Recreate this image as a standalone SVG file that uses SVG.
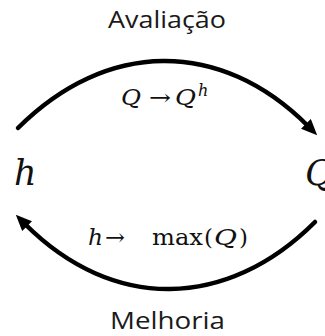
<svg xmlns="http://www.w3.org/2000/svg" width="325" height="336" viewBox="0 0 325 336">
  <style>
    .lbl { font-family: "Open Sans", "Liberation Sans", sans-serif; font-size: 23px; fill: #1a1a1a; }
    .m { font-family: "DejaVu Serif", "Liberation Serif", serif; fill: #111; }
    .it { font-style: italic; }
    .arc { fill: none; stroke: #000; stroke-width: 4.5; stroke-linecap: round; }
  </style>
  <defs>
    <marker id="ah" markerUnits="userSpaceOnUse" viewBox="0 0 16 14" markerWidth="16" markerHeight="14" refX="3" refY="7" orient="auto">
      <path d="M0,0 L16,7 L0,14 z" fill="#000"/>
    </marker>
  </defs>
  <rect width="325" height="336" fill="#fff"/>
  <g id="connectors">
    <path id="arc-avaliacao" class="arc" d="M18,128 C106,40 220,38 308,126" marker-end="url(#ah)"/>
    <path id="arc-melhoria" class="arc" d="M315,222 C227,310 113,312 25,224" marker-end="url(#ah)"/>
  </g>
  <g id="node-h">
    <text class="m it" x="14" y="185" font-size="35">h</text>
  </g>
  <g id="node-Q">
    <text class="m it" x="305" y="185" font-size="35">Q</text>
  </g>
  <g id="label-avaliacao">
    <text class="lbl" x="108" y="28" textLength="118" lengthAdjust="spacingAndGlyphs">Avaliação</text>
    <text class="m" font-size="22" y="105">
      <tspan class="it" x="121" textLength="20" lengthAdjust="spacingAndGlyphs">Q</tspan><tspan x="149" textLength="22" lengthAdjust="spacingAndGlyphs">→</tspan><tspan class="it" x="175" textLength="21" lengthAdjust="spacingAndGlyphs">Q</tspan><tspan class="it" x="198" y="96" font-size="16">h</tspan>
    </text>
  </g>
  <g id="label-melhoria">
    <text class="m" font-size="23" y="245">
      <tspan class="it" x="88" textLength="15" lengthAdjust="spacingAndGlyphs">h</tspan><tspan x="105" textLength="20" lengthAdjust="spacingAndGlyphs">→</tspan><tspan x="152" textLength="51" lengthAdjust="spacingAndGlyphs">max</tspan><tspan x="204">(</tspan><tspan class="it" x="214" textLength="23" lengthAdjust="spacingAndGlyphs">Q</tspan><tspan x="239">)</tspan>
    </text>
    <text class="lbl" x="110" y="329" textLength="115" lengthAdjust="spacingAndGlyphs">Melhoria</text>
  </g>
</svg>
